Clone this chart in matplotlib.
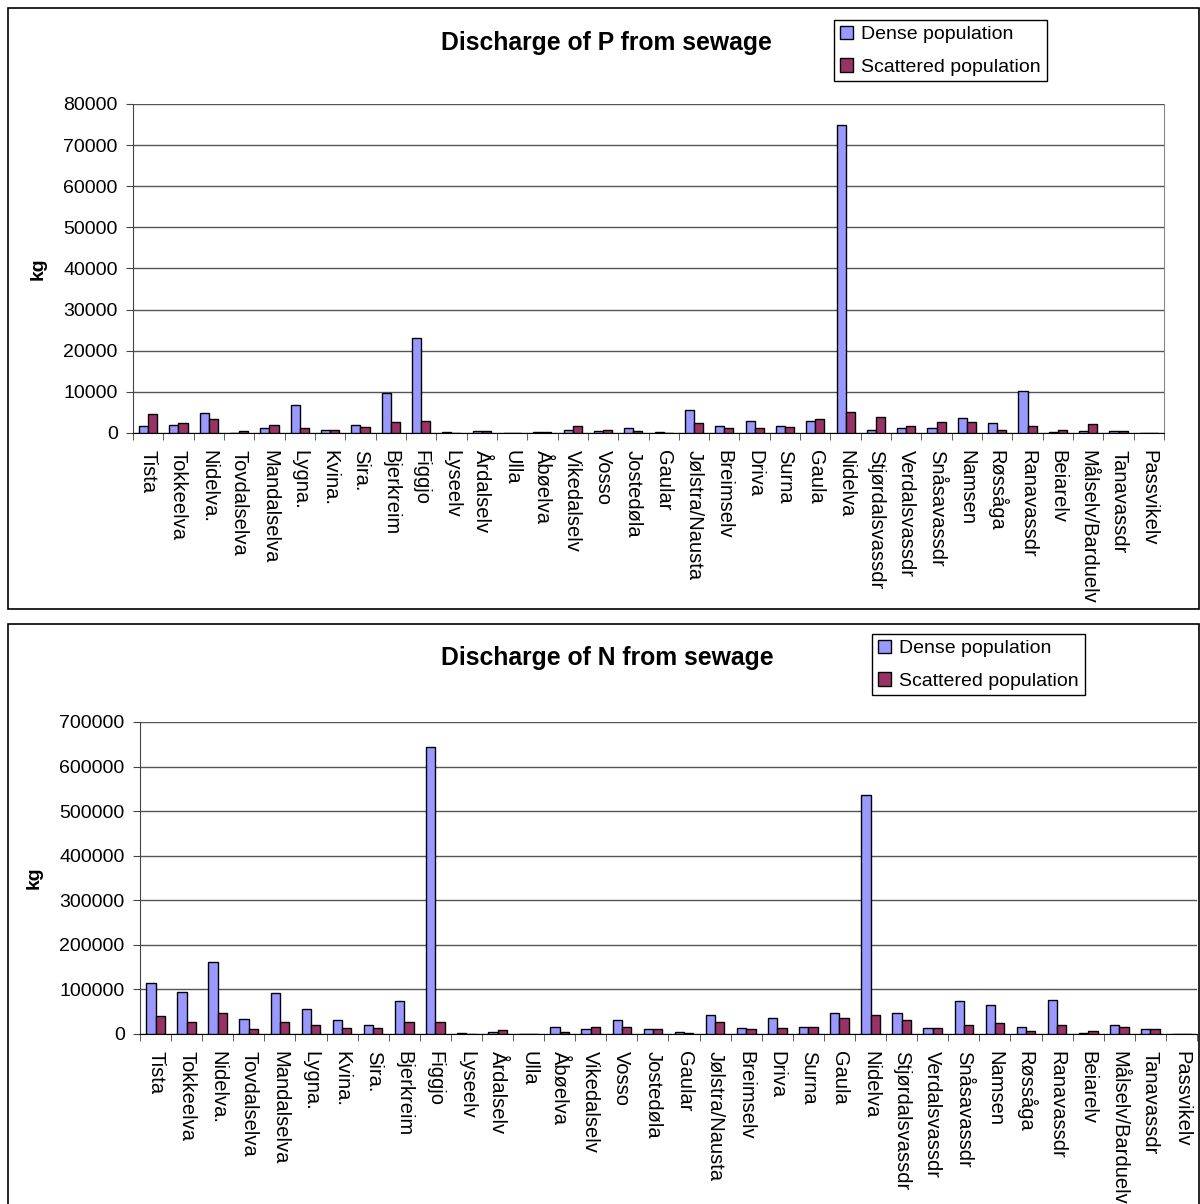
import numpy as np
import matplotlib.pyplot as plt
from matplotlib.patches import Rectangle
from matplotlib.ticker import FuncFormatter

plt.rcParams["font.family"] = ["Liberation Sans", "DejaVu Sans"]

rivers = ["Tista", "Tokkeelva", "Nidelva.", "Tovdalselva", "Mandalselva", "Lygna.",
          "Kvina.", "Sira.", "Bjerkreim", "Figgjo", "Lyseelv", "Årdalselv", "Ulla",
          "Åbøelva", "Vikedalselv", "Vosso", "Jostedøla", "Gaular", "Jølstra/Nausta",
          "Breimselv", "Driva", "Surna", "Gaula", "Nidelva", "Stjørdalsvassdr",
          "Verdalsvassdr", "Snåsavassdr", "Namsen", "Røssåga", "Ranavassdr", "Beiarelv",
          "Målselv/Barduelv", "Tanavassdr", "Passvikelv"]

# fosfor, kg
p_dense = [1800, 2050, 4800, 0, 1100, 6700, 800, 2050, 9750, 23200, 300, 600, 0,
           300, 800, 600, 1150, 300, 5500, 1800, 3000, 1800, 2800, 75000, 800,
           1150, 1150, 3600, 2450, 10100, 300, 600, 600, 0]
p_scattered = [4600, 2450, 3300, 600, 2050, 1100, 800, 1400, 2700, 3000, 100, 600, 0,
               300, 1800, 800, 600, 100, 2450, 1150, 1150, 1500, 3350, 5150, 3900,
               1800, 2700, 2700, 800, 1800, 800, 2100, 600, 0]

# nitrogen, kg
n_dense = [114000, 94700, 161000, 33800, 91000, 57000, 30800, 20300, 74400, 644000,
           3000, 3800, 0, 16500, 10500, 30800, 10500, 3800, 43600, 13500, 36800,
           16500, 47400, 536000, 47400, 13500, 74400, 64000, 16500, 77400, 3000,
           20300, 10500, 0]
n_scattered = [40600, 27000, 47400, 10500, 27000, 20300, 13500, 13500, 27000, 27000,
               1000, 8300, 0, 3800, 16500, 16500, 10500, 1500, 27000, 10500, 13500,
               16500, 36800, 43600, 30800, 13500, 20300, 24000, 6800, 20300, 6800,
               16500, 10500, 0]

W, H = 1200, 1204
fig = plt.figure(figsize=(W / 100, H / 100), dpi=100)


def fx(px):
    return px / W


def fy(py):
    return 1 - py / H


# rammer rundt hvert diagram (den nederste er kuttet i bunnen)
fig.patches.append(Rectangle((fx(8), fy(609)), fx(1191), 601 / H, transform=fig.transFigure,
                             fill=False, edgecolor="black", lw=1.2))
fig.patches.append(Rectangle((fx(8), fy(1220)), fx(1191), 596 / H, transform=fig.transFigure,
                             fill=False, edgecolor="black", lw=1.2))


def draw(box, dense, scattered, ymax, ystep, title, title_xy, legend_xy, right_spine):
    left, top, right, bottom = box
    ax = fig.add_axes([fx(left), fy(bottom), fx(right - left), (bottom - top) / H])
    x = np.arange(len(rivers))
    bw = 0.3
    ax.bar(x - bw / 2, dense, bw, color="#9999FF", edgecolor="black", lw=1,
           label="Dense population", zorder=3)
    ax.bar(x + bw / 2, scattered, bw, color="#993366", edgecolor="black", lw=1,
           label="Scattered population", zorder=3)
    ax.set_xlim(-0.5, len(rivers) - 0.5)
    ax.set_ylim(0, ymax)
    ax.set_yticks(np.arange(0, ymax + 1, ystep))
    ax.yaxis.set_major_formatter(FuncFormatter(lambda v, p: f"{int(v)}"))
    ax.grid(axis="y", color="#555555", lw=1, zorder=0)
    ax.set_xticks(x)
    ax.set_xticklabels(rivers, rotation=270, va="top", ha="center", fontsize=14.5)
    ax.set_xticks(np.arange(len(rivers) + 1) - 0.5, minor=True)
    ax.tick_params(axis="x", which="major", length=0, pad=12)
    ax.tick_params(axis="x", which="minor", length=5, direction="out", color="#444444")
    ax.tick_params(axis="y", length=5, direction="out", labelsize=14, pad=6, color="#444444")
    ax.spines["top"].set_visible(False)
    ax.spines["right"].set_visible(right_spine)
    ax.spines["right"].set_color("#888888")
    ax.spines["left"].set_color("#444444")
    ax.spines["bottom"].set_color("black")
    ax.set_ylabel("kg", fontsize=14, fontweight="bold", labelpad=12)
    fig.text(fx(title_xy[0]), fy(title_xy[1]), title, fontsize=17.8, fontweight="bold",
             ha="center", va="center")
    leg = fig.legend(*ax.get_legend_handles_labels(), loc="upper left",
                     bbox_to_anchor=(fx(legend_xy[0]), fy(legend_xy[1])),
                     fontsize=14, frameon=True, fancybox=False, framealpha=1,
                     edgecolor="black", handlelength=0.7, handleheight=0.7,
                     handletextpad=0.4, borderpad=0.3, labelspacing=0.75,
                     borderaxespad=0)
    leg.get_frame().set_linewidth(1)
    return ax


draw((133, 104, 1164, 433), p_dense, p_scattered, 80000, 10000,
     "Discharge of P from sewage", (606, 43), (834, 20), True)
draw((140, 722, 1197, 1034), n_dense, n_scattered, 700000, 100000,
     "Discharge of N from sewage", (607, 658), (872, 634), False)

fig.savefig("out.png", dpi=100)
